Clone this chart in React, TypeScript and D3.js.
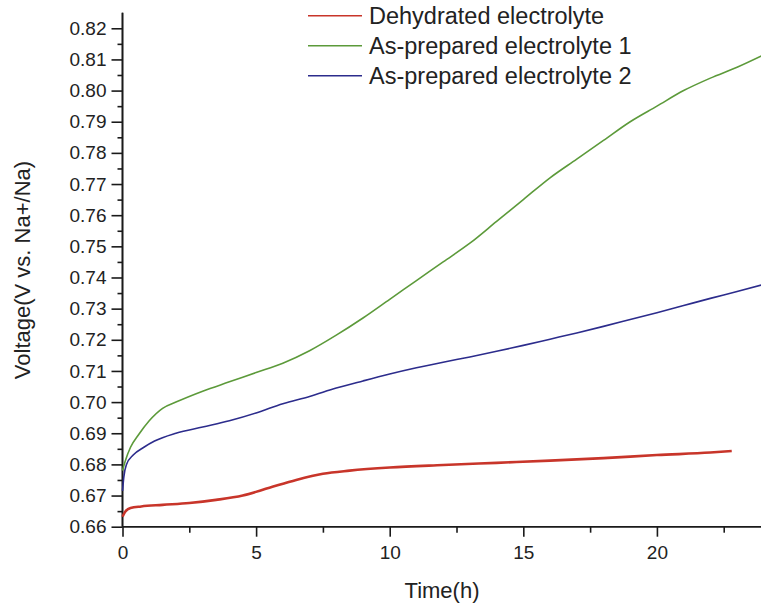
import React, { useEffect, useRef } from "react";
import * as d3 from "d3";

const seriesNames = ["Dehydrated electrolyte", "As-prepared electrolyte 1", "As-prepared electrolyte 2"];
const seriesColors = ["#c8352a", "#5c9a3a", "#2c2c8c"];

const dehydratedT = [0, 0.1, 0.3, 0.7, 1.5, 2.5, 3.5, 4.5, 5.5, 6.5, 7.5, 8.5, 10, 12, 14, 16, 18, 20, 22, 22.8];
const dehydratedV = [0.6632, 0.6648, 0.666, 0.6665, 0.667, 0.6676, 0.6686, 0.670, 0.6725, 0.675, 0.677, 0.678, 0.679, 0.6798, 0.6805, 0.6812, 0.682, 0.683, 0.6838, 0.6843];

const prep1T = [0, 0.1, 0.3, 0.6, 1, 1.5, 2, 3, 4, 5, 6, 7, 8, 9, 10, 11, 12, 13, 14, 15, 16, 17, 18, 19, 20, 21, 22, 23, 24];
const prep1V = [0.678, 0.681, 0.6855, 0.6895, 0.694, 0.698, 0.700, 0.7035, 0.7065, 0.7095, 0.7125, 0.7165, 0.7215, 0.727, 0.733, 0.739, 0.745, 0.751, 0.758, 0.765, 0.772, 0.778, 0.784, 0.790, 0.795, 0.800, 0.804, 0.8075, 0.8115];

const prep2T = [0, 0.05, 0.15, 0.4, 0.8, 1.2, 2, 3, 4, 5, 6, 7, 8, 9, 10, 11, 12, 13, 14, 15, 16, 17, 18, 19, 20, 21, 22, 23, 24];
const prep2V = [0.6715, 0.676, 0.680, 0.683, 0.6855, 0.6875, 0.690, 0.692, 0.694, 0.6965, 0.6995, 0.7018, 0.7045, 0.7068, 0.709, 0.711, 0.7128, 0.7145, 0.7163, 0.7182, 0.7202, 0.7222, 0.7243, 0.7265, 0.7287, 0.731, 0.7333, 0.7355, 0.7378];

const xMajorTicks = [0, 5, 10, 15, 20];
const xMinorTicks = [2.5, 7.5, 12.5, 17.5, 22.5];
const yMajorTicks = [0.66, 0.67, 0.68, 0.69, 0.70, 0.71, 0.72, 0.73, 0.74, 0.75, 0.76, 0.77, 0.78, 0.79, 0.80, 0.81, 0.82];
const yMinorTicks = [0.665, 0.675, 0.685, 0.695, 0.705, 0.715, 0.725, 0.735, 0.745, 0.755, 0.765, 0.775, 0.785, 0.795, 0.805, 0.815];

const W = 761, H = 605;
const FONT = "Arial, 'Liberation Sans', sans-serif";

export default function App() {
  const ref = useRef<SVGSVGElement>(null);

  useEffect(() => {
    const svg = d3.select(ref.current);
    svg.selectAll("*").remove();

    const x = d3.scaleLinear().domain([0, 24]).range([122.5, 763.8]);
    const y = d3.scaleLinear().domain([0.66, 0.825]).range([526.7, 12.7]);

    const axisColor = "#1a1a1a";

    // y axis
    const gy = svg.append("g").attr("transform", `translate(${x(0)},0)`);
    gy.call(d3.axisLeft(y).tickValues(yMinorTicks).tickSize(5).tickFormat(() => ""));
    gy.append("g").call(d3.axisLeft(y).tickValues(yMajorTicks).tickSize(11).tickPadding(5).tickFormat(d3.format(".2f")));
    gy.selectAll("path.domain").attr("stroke", axisColor).attr("stroke-width", 1.6);
    gy.selectAll("line").attr("stroke", axisColor).attr("stroke-width", 1.6);
    gy.selectAll("text").attr("fill", "#222").style("font-family", FONT).style("font-size", "19px");
    gy.selectAll("path.domain").attr("d", `M0,${y(0.66)}V${y(0.825)}`);

    // x axis
    const gx = svg.append("g").attr("transform", `translate(0,${y(0.66)})`);
    gx.call(d3.axisBottom(x).tickValues(xMinorTicks).tickSize(6).tickFormat(() => ""));
    gx.append("g").call(d3.axisBottom(x).tickValues(xMajorTicks).tickSize(10).tickPadding(9).tickFormat(d3.format("d")));
    gx.selectAll("path.domain").attr("stroke", axisColor).attr("stroke-width", 1.6);
    gx.selectAll("line").attr("stroke", axisColor).attr("stroke-width", 1.6);
    gx.selectAll("text").attr("fill", "#222").style("font-family", FONT).style("font-size", "19px");
    gx.selectAll("path.domain").attr("d", `M${x(0)},0H${x(24)}`);

    const seriesData = [
      dehydratedT.map((t, i) => [t, dehydratedV[i]] as [number, number]),
      prep1T.map((t, i) => [t, prep1V[i]] as [number, number]),
      prep2T.map((t, i) => [t, prep2V[i]] as [number, number]),
    ];
    const widths = [2.6, 1.6, 1.6];
    const line = d3.line<[number, number]>().x(d => x(d[0])).y(d => y(d[1])).curve(d3.curveMonotoneX);

    [1, 2, 0].forEach(i => {
      svg.append("path")
        .attr("d", line(seriesData[i]) as string)
        .attr("fill", "none")
        .attr("stroke", seriesColors[i])
        .attr("stroke-width", widths[i])
        .attr("stroke-linejoin", "round");
    });

    // legend
    const lg = svg.append("g");
    seriesNames.forEach((name, i) => {
      const yy = 15.7 + i * 30;
      lg.append("line").attr("x1", 308).attr("x2", 362).attr("y1", yy).attr("y2", yy)
        .attr("stroke", seriesColors[i]).attr("stroke-width", 1.6);
      lg.append("text").attr("x", 369).attr("y", yy).attr("dy", "0.36em")
        .attr("fill", "#222").style("font-family", FONT).style("font-size", "23.5px").text(name);
    });

    // axis titles
    svg.append("text").attr("x", 442).attr("y", 598).attr("text-anchor", "middle")
      .attr("fill", "#222").style("font-family", FONT).style("font-size", "22px").text("Time(h)");
    svg.append("text").attr("transform", `translate(30,270) rotate(-90)`).attr("text-anchor", "middle")
      .attr("fill", "#222").style("font-family", FONT).style("font-size", "22px").text("Voltage(V vs. Na+/Na)");
  }, []);

  return (
    <svg ref={ref} width={W} height={H}
      style={{ position: "absolute", left: 0, top: 0, display: "block", background: "#fff" }} />
  );
}
